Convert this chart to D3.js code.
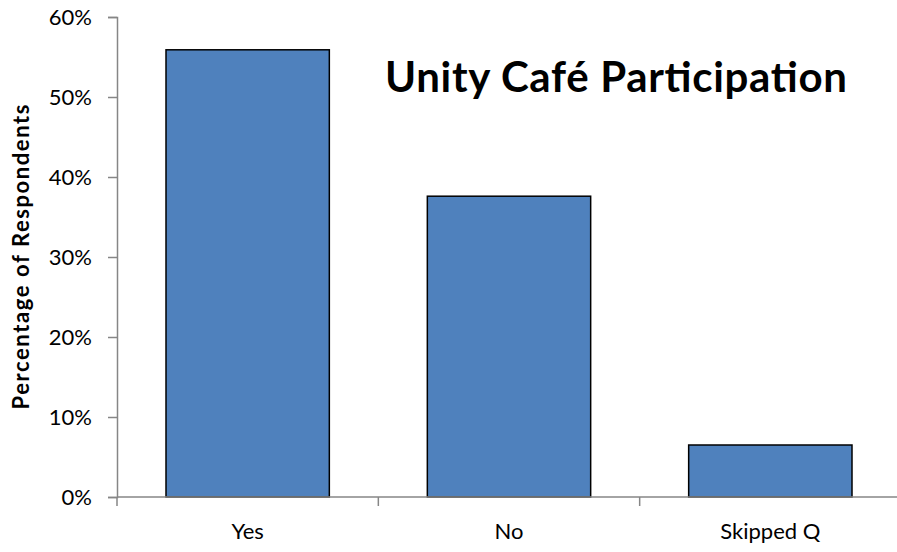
<!DOCTYPE html>
<html>
<head>
<meta charset="utf-8">
<script src="https://cdn.jsdelivr.net/npm/d3@7"></script>
<style>
  body { margin: 0; background: #fff; }
  text { font-family: Lato, "Open Sans", sans-serif; fill: #000; }
</style>
</head>
<body>
<div id="chart"></div>
<script>
const categories = ["Yes", "No", "Skipped Q"];
const percents = [55.9, 37.6, 6.5];
const yTicks = [0, 10, 20, 30, 40, 50, 60];
const chartTitle = "Unity Café Participation";
const yLabel = "Percentage of Respondents";

const width = 897, height = 552;
const margin = { top: 17, right: -4, bottom: 55, left: 117 };

const svg = d3.select("#chart").append("svg")
    .attr("width", width)
    .attr("height", height);

const x = d3.scaleBand()
    .domain(categories)
    .range([margin.left, width - margin.right])
    .paddingInner(0.375)
    .paddingOuter(0.1875);

const y = d3.scaleLinear()
    .domain([0, 60])
    .range([height - margin.bottom, margin.top]);

// bars
svg.selectAll("rect.bar")
    .data(percents)
    .enter()
    .append("rect")
    .attr("class", "bar")
    .attr("x", (d, i) => x(categories[i]))
    .attr("y", d => y(d))
    .attr("width", x.bandwidth())
    .attr("height", d => y(0) - y(d))
    .attr("fill", "#4f81bd")
    .attr("stroke", "#000")
    .attr("stroke-width", 1.5);

// y axis
const yAxis = svg.append("g")
    .attr("transform", `translate(${margin.left},0)`)
    .call(d3.axisLeft(y).tickValues(yTicks).tickSize(9).tickFormat(d => d + "%"));
yAxis.select(".domain").attr("stroke", "#868686").attr("stroke-width", 1.5);
yAxis.selectAll(".tick line").attr("stroke", "#868686").attr("stroke-width", 1.5);
yAxis.selectAll(".tick text")
    .attr("x", -25)
    .style("font-size", "22px")
    .style("font-family", "Lato, 'Open Sans', sans-serif");

// x axis, ticks between the categories
const xAxisG = svg.append("g")
    .attr("transform", `translate(0,${y(0)})`);
xAxisG.append("line")
    .attr("x1", margin.left).attr("x2", width)
    .attr("stroke", "#868686").attr("stroke-width", 1.5);
const step = x.step();
xAxisG.selectAll("line.sep")
    .data(categories)
    .enter()
    .append("line")
    .attr("x1", d => x(d) - step * 0.1875)
    .attr("x2", d => x(d) - step * 0.1875)
    .attr("y1", 0).attr("y2", 9)
    .attr("stroke", "#868686").attr("stroke-width", 1.5);
xAxisG.selectAll("text")
    .data(categories)
    .enter()
    .append("text")
    .attr("x", d => x(d) + x.bandwidth() / 2)
    .attr("y", 42)
    .attr("text-anchor", "middle")
    .style("font-size", "22px")
    .text(d => d);

// y label
svg.append("text")
    .attr("transform", `translate(29,${(y(0) + y(60)) / 2}) rotate(-90)`)
    .attr("text-anchor", "middle")
    .attr("textLength", 305)
    .attr("lengthAdjust", "spacing")
    .style("font-size", "22px")
    .style("font-weight", "bold")
    .text(yLabel);

// title
svg.append("text")
    .attr("x", 616)
    .attr("y", 92)
    .attr("text-anchor", "middle")
    .attr("textLength", 462)
    .attr("lengthAdjust", "spacing")
    .style("font-size", "42px")
    .style("font-weight", "bold")
    .text(chartTitle);
</script>
</body>
</html>
